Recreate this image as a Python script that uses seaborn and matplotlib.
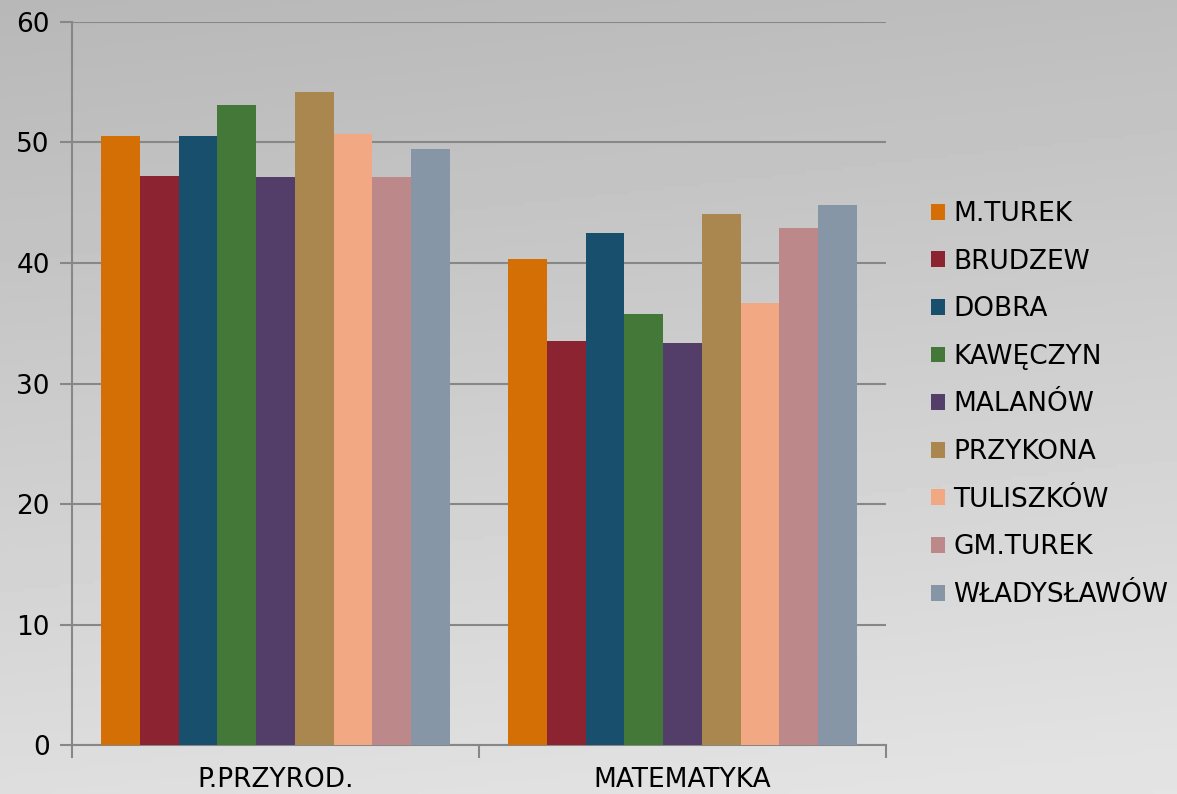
import numpy as np
import pandas as pd
import seaborn as sns
import matplotlib.pyplot as plt
from matplotlib.ticker import FixedLocator

subjects = ["P.PRZYROD.", "MATEMATYKA"]
gminy = ["M.TUREK", "BRUDZEW", "DOBRA", "KAWĘCZYN", "MALANÓW",
         "PRZYKONA", "TULISZKÓW", "GM.TUREK", "WŁADYSŁAWÓW"]
przyrod = [50.5, 47.2, 50.5, 53.1, 47.1, 54.2, 50.7, 47.1, 49.5]
matematyka = [40.3, 33.5, 42.5, 35.8, 33.4, 44.1, 36.7, 42.9, 44.8]
colors = ["#d46f06", "#8b2331", "#174f6d", "#447839", "#533e69",
          "#aa874f", "#f3a884", "#bc888a", "#8796a7"]

df = pd.DataFrame({
    "subject": [subjects[0]] * len(gminy) + [subjects[1]] * len(gminy),
    "gmina": gminy * 2,
    "value": przyrod + matematyka,
})

sns.set_theme(style="white")
plt.rcParams['font.family'] = ['DejaVu Sans']
plt.rcParams['text.color'] = 'black'

fig = plt.figure(figsize=(11.77, 7.94), dpi=100)

# gray gradient background
bg = fig.add_axes([0, 0, 1, 1], zorder=-10)
yy, xx = np.mgrid[0:1:200j, 0:1:200j]
shade = 0.72 + 0.15 * yy + 0.025 * xx
bg.imshow(shade, cmap="gray", vmin=0, vmax=1, aspect="auto",
          extent=[0, 1, 0, 1], origin="upper")
bg.axis("off")

ax = fig.add_axes([0.0612, 0.0617, 0.6916, 0.9106])
ax.patch.set_alpha(0)

sns.barplot(data=df, x="subject", y="value", hue="gmina", hue_order=gminy,
            palette=colors, width=0.857, gap=0, saturation=1,
            edgecolor="none", ax=ax, zorder=3)

ax.set_ylim(0, 60)
ax.set_xlim(-0.5, 1.5)
ax.set_yticks(range(0, 61, 10))
ax.yaxis.grid(True, color="#878787", linewidth=1.5, zorder=0)
ax.set_axisbelow(True)
ax.tick_params(axis="y", left=True, length=9, width=1.5, color="#878787",
               labelsize=19, pad=7, labelcolor="black")
ax.tick_params(axis="x", which="major", bottom=False, length=0, labelsize=19,
               pad=16, labelcolor="black")
ax.xaxis.set_minor_locator(FixedLocator([-0.5, 0.5, 1.5]))
ax.tick_params(axis="x", which="minor", bottom=True, length=9, width=1.5,
               color="#878787")
for s in ["top", "right"]:
    ax.spines[s].set_visible(False)
for s in ["left", "bottom"]:
    ax.spines[s].set_color("#878787")
    ax.spines[s].set_linewidth(1.5)
ax.set_xlabel("")
ax.set_ylabel("")

leg = ax.legend(loc="center left", bbox_to_anchor=(1.026, 0.471), frameon=False,
                fontsize=19, handlelength=0.55, handleheight=0.55,
                handletextpad=0.3, labelspacing=0.82)
for t in leg.get_texts():
    t.set_color("black")

fig.savefig("out.png", dpi=100)
